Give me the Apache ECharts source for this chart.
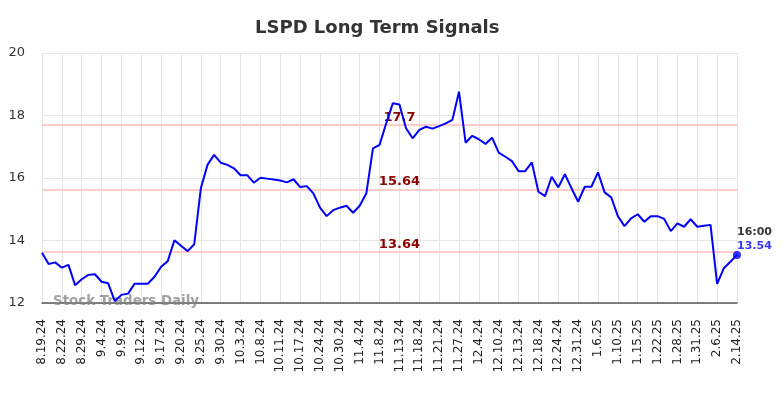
<!DOCTYPE html>
<html>
<head>
<meta charset="utf-8">
<script src="https://cdn.jsdelivr.net/npm/echarts@6/dist/echarts.min.js"></script>
<style>
html,body{margin:0;padding:0;background:#fff;}
#chart{width:784px;height:398px;}
</style>
</head>
<body>
<div id="chart"></div>
<script>
var tickLabels = ['8.19.24','8.22.24','8.29.24','9.4.24','9.9.24','9.12.24','9.17.24','9.20.24','9.25.24','9.30.24','10.3.24','10.8.24','10.11.24','10.17.24','10.24.24','10.30.24','11.4.24','11.8.24','11.13.24','11.18.24','11.21.24','11.27.24','12.4.24','12.10.24','12.13.24','12.18.24','12.24.24','12.31.24','1.6.25','1.10.25','1.15.25','1.22.25','1.28.25','1.31.25','2.6.25','2.14.25'];
var pointsPerTick = 3;
var prices = [13.61,13.25,13.30,13.13,13.22,12.57,12.76,12.90,12.92,12.68,
12.63,12.06,12.26,12.30,12.62,12.62,12.62,12.84,13.16,13.34,
14.01,13.83,13.66,13.88,15.67,16.42,16.74,16.49,16.42,16.31,
16.09,16.09,15.85,16.01,15.98,15.95,15.92,15.86,15.96,15.71,
15.74,15.51,15.05,14.78,14.97,15.05,15.11,14.89,15.11,15.51,
16.95,17.06,17.75,18.39,18.35,17.59,17.27,17.54,17.64,17.58,
17.66,17.75,17.86,18.76,17.13,17.35,17.24,17.09,17.29,16.81,
16.68,16.54,16.22,16.22,16.50,15.56,15.42,16.04,15.70,16.12,
15.67,15.24,15.72,15.72,16.18,15.54,15.38,14.78,14.46,14.71,
14.84,14.60,14.78,14.78,14.69,14.30,14.55,14.44,14.68,14.44,
14.47,14.50,12.61,13.11,13.32,13.54];
var levels = [17.7, 15.64, 13.64];
var levelLabels = ['17.7','15.64','13.64'];
var lastTime = '16:00';
var title = 'LSPD Long Term Signals';
var watermark = 'Stock Traders Daily';

var categories = prices.map(function(v,i){ return (i % pointsPerTick === 0) ? tickLabels[i/pointsPerTick] : ''; });
var lastIdx = prices.length - 1;
var labelIdx = 54;
var FONT = 'DejaVu Sans';

var chart = echarts.init(document.getElementById('chart'), null, {renderer:'canvas'});
chart.setOption({
  animation: false,
  backgroundColor: '#ffffff',
  title: {
    text: title, left: 250, top: 14,
    textStyle: {fontFamily: FONT, fontSize: 18, fontWeight: 'bold', color: '#333333'}
  },
  grid: {left: 42, right: 47, top: 53, bottom: 95, containLabel: false},
  xAxis: {
    type: 'category', data: categories, boundaryGap: false,
    axisLine: {show: true, lineStyle: {color: '#555555', width: 1.5}},
    axisTick: {show: false},
    axisLabel: {interval: pointsPerTick-1, rotate: 90, margin: 16, fontFamily: FONT, fontSize: 12, color: '#222222'},
    splitLine: {show: true, interval: pointsPerTick-1, lineStyle: {color: '#e6e6e6', width: 1}}
  },
  yAxis: {
    type: 'value', min: 12, max: 20, interval: 2,
    axisLine: {show: false}, axisTick: {show: false},
    axisLabel: {margin: 17, fontFamily: FONT, fontSize: 13, color: '#333333'},
    splitLine: {show: true, lineStyle: {color: '#e6e6e6', width: 1}}
  },
  graphic: [{
    type: 'text', left: 53, top: 295, z: 1,
    style: {text: watermark, fontFamily: FONT, fontSize: 13.4, fontWeight: 'bold', fill: 'rgba(130,130,130,0.75)'}
  }],
  series: [{
    type: 'line', data: prices, showSymbol: false, symbol: 'none',
    lineStyle: {color: '#0000ff', width: 2}, z: 3,
    markLine: {
      silent: true, symbol: 'none', z: 1,
      lineStyle: {color: '#ffcccc', width: 2, type: 'solid'},
      label: {show: false},
      data: levels.map(function(v){ return {yAxis: v}; })
    },
    markPoint: {
      symbol: 'circle', symbolSize: 0, z: 2,
      label: {show: true, position: 'top', distance: 1, fontFamily: FONT, fontSize: 13, fontWeight: 'bold', color: '#8b0000'},
      data: levels.map(function(v,k){ return {coord: [labelIdx, v], value: levelLabels[k], label: {formatter: levelLabels[k]}}; })
    }
  }, {
    type: 'scatter', data: [[lastIdx, prices[lastIdx]]], symbol: 'circle', symbolSize: 8, z: 4,
    itemStyle: {color: '#0000ff'},
    label: {
      show: true, position: [4, -26], align: 'left', verticalAlign: 'top',
      formatter: '{a|' + lastTime + '}\n{b|' + prices[lastIdx].toFixed(2) + '}',
      rich: {
        a: {fontFamily: FONT, fontSize: 11, fontWeight: 'bold', color: '#000000', lineHeight: 14},
        b: {fontFamily: FONT, fontSize: 11, fontWeight: 'bold', color: '#0000ff', lineHeight: 14}
      }
    }
  }]
});
</script>
</body>
</html>
